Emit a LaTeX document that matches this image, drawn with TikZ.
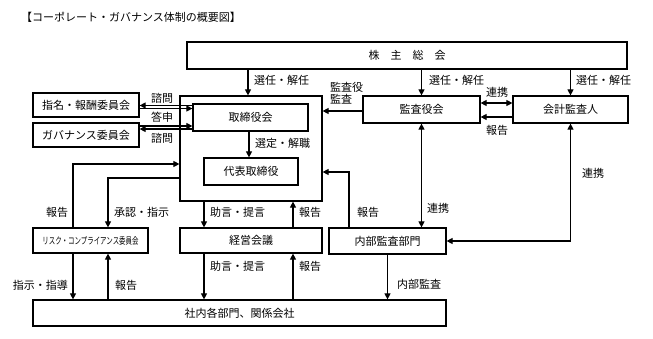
\documentclass[tikz,border=0pt]{standalone}
\usepackage{fontspec}
\setmainfont{Noto Sans CJK JP}
\usetikzlibrary{arrows.meta}
\begin{document}
\begin{tikzpicture}[x=1pt,y=-1pt,
  font=\fontsize{11}{12.5}\selectfont,
  box/.style={draw,line width=1.2pt,rectangle,inner sep=0pt,anchor=center},
  lbl/.style={inner sep=0pt},
  arr/.style={line width=1.1pt,-{Triangle[length=6pt,width=6pt]}},
  dbl/.style={line width=1.1pt,{Triangle[length=6pt,width=6pt]}-{Triangle[length=6pt,width=6pt]}},
  ln/.style={line width=1.1pt}]
\useasboundingbox[fill=white] (0,0) rectangle (653,338);

\node[lbl,anchor=west] (title) at (21,17) {\fontsize{11}{13}\selectfont 【コーポレート・ガバナンス体制の概要図】};

\node[box,minimum width=440pt,minimum height=27pt] (sh) at (407,55.5) {株　主　総　会};
\node[box,minimum width=142pt,minimum height=105pt] (board) at (251,148.5) {};
\node[box,minimum width=115pt,minimum height=27pt] (tb) at (250.5,117.5) {取締役会};
\node[box,minimum width=94pt,minimum height=27pt] (rep) at (251,171.5) {代表取締役};
\node[box,minimum width=106pt,minimum height=24pt] (nom) at (86,105) {指名・報酬委員会};
\node[box,minimum width=106pt,minimum height=24pt] (gov) at (86,135) {ガバナンス委員会};
\node[box,minimum width=117pt,minimum height=27pt] (kansa) at (421.5,109.5) {監査役会};
\node[box,minimum width=115pt,minimum height=27pt] (kaikei) at (570.5,109.5) {会計監査人};
\node[box,minimum width=115pt,minimum height=25pt] (risk) at (90.5,240.5) {\scalebox{0.68}[1]{\fontsize{9.5}{11}\selectfont リスク・コンプライアンス委員会}};
\node[box,minimum width=142pt,minimum height=25pt] (keiei) at (251,240.5) {経営会議};
\node[box,minimum width=117pt,minimum height=26pt] (naibu) at (387.5,241) {内部監査部門};
\node[box,minimum width=413pt,minimum height=26pt] (shanai) at (239.5,313) {社内各部門、関係会社};

% shareholders
\draw[arr] (sh.south -| 248,0) -- (board.north -| 248,0);
\draw[arr] (sh.south -| kansa.north) -- (kansa.north);
\draw[arr] (sh.south -| kaikei.north) -- (kaikei.north);
\node[lbl,anchor=west] (l1) at (254,80) {選任・解任};
\node[lbl,anchor=west] (l2) at (429,80) {選任・解任};
\node[lbl,anchor=west] (l3) at (576,80) {選任・解任};

% board internal
\draw[arr] (tb.south -| 249,0) -- (rep.north -| 249,0);
\node[lbl,anchor=west] (l4) at (255,143) {選定・解職};

% committees
\draw[arr] (tb.west |- 0,105.5) -- (nom.east |- 0,105.5);
\draw[arr] (nom.east |- 0,108.5) -- (tb.west |- 0,108.5);
\draw[arr] (gov.east |- 0,126) -- (tb.west |- 0,126);
\draw[arr] (tb.west |- 0,129) -- (gov.east |- 0,129);
\node[lbl] (l5) at (162,98) {諮問};
\node[lbl] (l6) at (162,117) {答申};
\node[lbl] (l7) at (162,138) {諮問};

% auditors
\draw[arr] (kansa.west |- 0,111) -- (board.east |- 0,111);
\node[lbl,anchor=west,align=left] (l8) at (330,93) {監査役\\[-1pt]監査};
\draw[dbl] (kansa.east |- 0,103) -- (kaikei.west |- 0,103);
\draw[arr] (kaikei.west |- 0,117) -- (kansa.east |- 0,117);
\node[lbl] (l9) at (497,92) {連携};
\node[lbl] (l10) at (497,130) {報告};

% risk loops
\draw[arr] (risk.north -| 73,0) |- (board.west |- 0,164);
\draw[arr] (board.west |- 0,178) -| (risk.north -| 108,0);
\node[lbl] (l11) at (57,212) {報告};
\node[lbl,anchor=west] (l12) at (114,212) {承認・指示};

% board - keiei
\draw[arr] (board.south -| 204,0) -- (keiei.north -| 204,0);
\draw[arr] (keiei.north -| 293,0) -- (board.south -| 293,0);
\node[lbl,anchor=west] (l13) at (210,212) {助言・提言};
\node[lbl,anchor=west] (l14) at (299,212) {報告};
\draw[arr] (keiei.south -| 204,0) -- (shanai.north -| 204,0);
\draw[arr] (shanai.north -| 293,0) -- (keiei.south -| 293,0);
\node[lbl,anchor=west] (l15) at (210,266) {助言・提言};
\node[lbl,anchor=west] (l16) at (299,266) {報告};

% risk - shanai
\draw[arr] (risk.south -| 73,0) -- (shanai.north -| 73,0);
\draw[arr] (shanai.north -| 108,0) -- (risk.south -| 108,0);
\node[lbl,anchor=east] (l17) at (68,285) {指示・指導};
\node[lbl,anchor=west] (l18) at (115,285) {報告};

% internal audit
\draw[arr] (naibu.north -| 349,0) |- (board.east |- 0,172);
\node[lbl,anchor=west] (l19) at (357,212) {報告};
\draw[dbl] (kansa.south) -- (kansa.south |- naibu.north);
\node[lbl,anchor=west] (l20) at (427,208) {連携};
\draw[dbl] (kaikei.south) |- (naibu.east);
\node[lbl,anchor=west] (l21) at (582,173) {連携};
\draw[arr] (naibu.south) -- (naibu.south |- shanai.north);
\node[lbl,anchor=west] (l22) at (397,284) {内部監査};
\end{tikzpicture}
\end{document}
